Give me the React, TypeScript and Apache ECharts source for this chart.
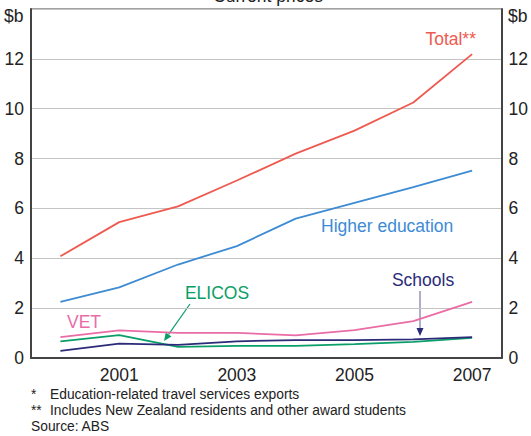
import React, { useEffect, useRef } from "react";
import * as echarts from "echarts";

const years = ["2000", "2001", "2002", "2003", "2004", "2005", "2006", "2007"];
const total = [4.08, 5.45, 6.08, 7.12, 8.2, 9.12, 10.25, 12.19];
const higherEd = [2.25, 2.83, 3.75, 4.49, 5.59, 6.22, 6.85, 7.52];
const vet = [0.84, 1.11, 1.01, 1.01, 0.91, 1.12, 1.48, 2.25];
const elicos = [0.67, 0.92, 0.45, 0.49, 0.49, 0.56, 0.65, 0.81];
const schools = [0.29, 0.58, 0.53, 0.67, 0.72, 0.72, 0.75, 0.84];
const yTicks = [0, 2, 4, 6, 8, 10, 12, 14];

const FONT = "Liberation Sans, Arial, sans-serif";
const C_TOTAL = "#ee5a4f";
const C_HE = "#3d8bd4";
const C_VET = "#ea6ca6";
const C_ELICOS = "#0a9e68";
const C_SCHOOLS = "#2b2b78";

function arrow(x1: number, y1: number, x2: number, y2: number, lineColor: string, headColor: string) {
  const dx = x2 - x1;
  const dy = y2 - y1;
  const len = Math.sqrt(dx * dx + dy * dy);
  const ux = dx / len;
  const uy = dy / len;
  const hl = 8;
  const hw = 3.5;
  const bx = x2 - ux * hl;
  const by = y2 - uy * hl;
  return [
    {
      type: "line",
      shape: { x1, y1, x2: bx, y2: by },
      style: { stroke: lineColor, lineWidth: 1.2 },
    },
    {
      type: "polygon",
      shape: {
        points: [
          [x2, y2],
          [bx - uy * hw, by + ux * hw],
          [bx + uy * hw, by - ux * hw],
        ],
      },
      style: { fill: headColor },
    },
  ];
}

function label(text: string, x: number, y: number, color: string, align: string, size = 17.5) {
  return {
    type: "text",
    x,
    y,
    style: {
      text,
      fill: color,
      font: `${size}px ${FONT}`,
      textAlign: align,
      textVerticalAlign: "middle",
    },
  };
}

export default function App() {
  const ref = useRef<HTMLDivElement>(null);
  useEffect(() => {
    if (!ref.current) return;
    const chart = echarts.init(ref.current, undefined, { renderer: "svg" });
    const yLabelFmt = (v: number) => (v === 14 ? "" : String(v));
    const lineSeries = (name: string, data: number[], color: string) => ({
      name,
      type: "line",
      data,
      symbol: "none",
      lineStyle: { color, width: 1.8 },
      itemStyle: { color },
      z: 3,
    });
    chart.setOption({
      animation: false,
      grid: {
        left: 31,
        right: 27,
        top: 9,
        bottom: 78,
        show: true,
        borderColor: "#444",
        borderWidth: 1,
      },
      xAxis: {
        type: "category",
        data: years,
        boundaryGap: true,
        axisLine: { lineStyle: { color: "#444", width: 2 } },
        axisTick: { inside: true, length: 7, interval: 0, lineStyle: { color: "#444", width: 1 } },
        axisLabel: {
          interval: (i: number) => i % 2 === 1,
          color: "#222",
          fontSize: 17.5,
          fontFamily: FONT,
          margin: 8,
        },
        splitLine: { show: false },
      },
      yAxis: [
        {
          type: "value",
          min: yTicks[0],
          max: yTicks[yTicks.length - 1],
          interval: 2,
          position: "left",
          axisLine: { show: true, lineStyle: { color: "#444", width: 2 } },
          axisTick: { show: false },
          axisLabel: { formatter: yLabelFmt, color: "#222", fontSize: 17.5, fontFamily: FONT, margin: 7 },
          splitLine: { show: true, lineStyle: { color: "#c4c4c4", width: 1 } },
        },
        {
          type: "value",
          min: yTicks[0],
          max: yTicks[yTicks.length - 1],
          interval: 2,
          position: "right",
          axisLine: { show: true, lineStyle: { color: "#444", width: 2 } },
          axisTick: { show: false },
          axisLabel: { formatter: yLabelFmt, color: "#222", fontSize: 17.5, fontFamily: FONT, margin: 7 },
          splitLine: { show: false },
        },
      ],
      series: [
        lineSeries("Total**", total, C_TOTAL),
        lineSeries("Higher education", higherEd, C_HE),
        lineSeries("VET", vet, C_VET),
        lineSeries("ELICOS", elicos, C_ELICOS),
        lineSeries("Schools", schools, C_SCHOOLS),
      ],
      graphic: [
        {
          type: "text",
          x: 268,
          y: 5,
          style: {
            text: "Current prices",
            fill: "#222",
            font: `17.5px ${FONT}`,
            textAlign: "center",
            textVerticalAlign: "bottom",
          },
        },
        label("$b", 4, 16, "#222", "left"),
        label("$b", 508, 16, "#222", "left"),
        label("Total**", 476, 39, C_TOTAL, "right"),
        label("Higher education", 321, 226, C_HE, "left"),
        label("VET", 67, 322, C_VET, "left"),
        label("ELICOS", 217, 293, C_ELICOS, "center"),
        label("Schools", 423, 280, C_SCHOOLS, "center"),
        ...arrow(190, 304, 164, 341, C_ELICOS, C_ELICOS),
        ...arrow(420, 291, 420, 336, "#7a7aa8", C_SCHOOLS),
        label("*", 31, 394, "#222", "left", 13.8),
        label("Education-related travel services exports", 50, 394, "#222", "left", 13.8),
        label("**", 31, 410, "#222", "left", 13.8),
        label("Includes New Zealand residents and other award students", 50, 410, "#222", "left", 13.8),
        label("Source: ABS", 31, 426, "#222", "left", 13.8),
      ],
    });
    return () => chart.dispose();
  }, []);
  return (
    <div
      ref={ref}
      style={{ position: "fixed", left: 0, top: 0, width: 531, height: 436, background: "#fff" }}
    />
  );
}
